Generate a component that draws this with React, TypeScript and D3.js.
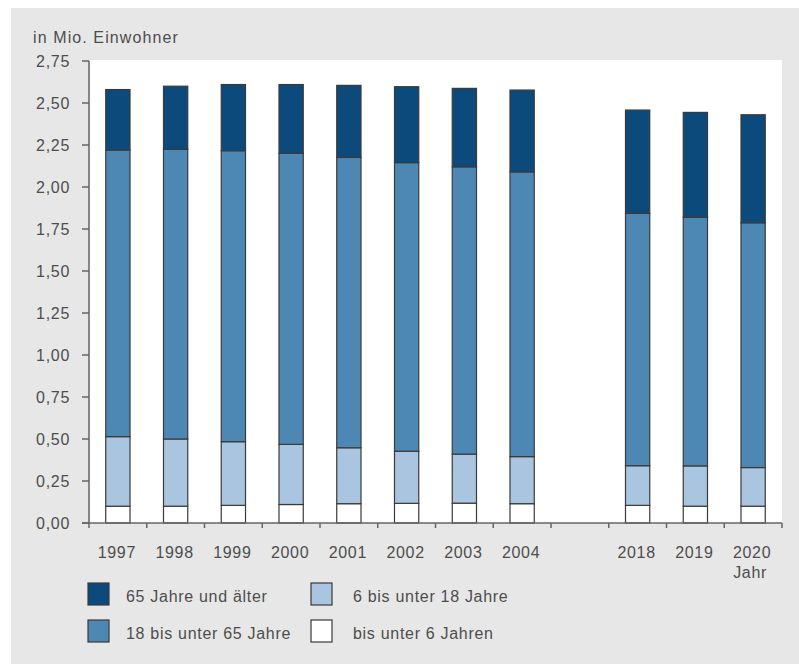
import React from "react";
import * as d3 from "d3";

const years = ["1997", "1998", "1999", "2000", "2001", "2002", "2003", "2004", "", "2018", "2019", "2020"];
const under6 = [0.1, 0.1, 0.105, 0.11, 0.115, 0.117, 0.118, 0.115, 0, 0.105, 0.1, 0.1];
const age6to18 = [0.414, 0.4, 0.379, 0.358, 0.333, 0.31, 0.292, 0.28, 0, 0.236, 0.24, 0.23];
const age18to65 = [1.706, 1.724, 1.732, 1.732, 1.728, 1.718, 1.71, 1.695, 0, 1.502, 1.48, 1.457];
const age65plus = [0.36, 0.376, 0.394, 0.41, 0.429, 0.452, 0.467, 0.487, 0, 0.615, 0.624, 0.643];
const yTicks = [0, 0.25, 0.5, 0.75, 1.0, 1.25, 1.5, 1.75, 2.0, 2.25, 2.5, 2.75];

const keys = ["u6", "a6", "a18", "a65"];
const colors: Record<string, string> = { u6: "#ffffff", a6: "#a9c5df", a18: "#4d87b4", a65: "#0b4a7a" };
const legendItems = [
  { key: "a65", label: "65 Jahre und älter", col: 0, row: 0 },
  { key: "a6", label: "6 bis unter 18 Jahre", col: 1, row: 0 },
  { key: "a18", label: "18 bis unter 65 Jahre", col: 0, row: 1 },
  { key: "u6", label: "bis unter 6 Jahren", col: 1, row: 1 },
];

export default function App() {
  const W = 799, H = 664;
  const left = 89, right = 782, top = 61, bottom = 523;
  const rows = years.map((y, i) => ({ year: y, u6: under6[i], a6: age6to18[i], a18: age18to65[i], a65: age65plus[i] }));
  const x = d3.scaleBand<string>().domain(years.map((y, i) => y || "gap" + i)).range([left, right]).paddingInner(0.58).paddingOuter(0.29);
  const y = d3.scaleLinear().domain([0, 2.75]).range([bottom, top]);
  const stack = d3.stack<any>().keys(keys)(rows);
  const fmt = (v: number) => v.toFixed(2).replace(".", ",");
  const textColor = "#4d4d4d";
  const font = "Liberation Sans, Arial, Helvetica, sans-serif";
  const fs = 16;
  const ls = 0.7;
  const step = x.step();
  const boundaries = d3.range(years.length + 1).map((i) => left + i * step);

  return (
    <div style={{ position: "absolute", left: 0, top: 0 }}>
      <svg width={W} height={H} style={{ display: "block" }} fontFamily={font}>
        <rect x={0} y={0} width={W} height={H} fill="#ffffff" />
        <rect x={11} y={8} width={W - 11} height={H - 8} fill="#e7e7e7" />
        <rect x={left + 1} y={60} width={right - left - 1} height={bottom - 60} fill="#ffffff" />
        <text x={33} y={43} fontSize={fs} fill={textColor} letterSpacing={1.1}>in Mio. Einwohner</text>
        {stack.map((layer) => (
          <g key={layer.key}>
            {layer.map((d, i) =>
              years[i] ? (
                <rect
                  key={i}
                  x={x(years[i])!}
                  y={y(d[1])}
                  width={x.bandwidth()}
                  height={y(d[0]) - y(d[1])}
                  fill={colors[layer.key]}
                  stroke="#3a3a3a"
                  strokeWidth={1.2}
                />
              ) : null
            )}
          </g>
        ))}
        <line x1={left} x2={left} y1={top} y2={bottom} stroke="#666" strokeWidth={1.5} />
        {yTicks.map((t) => (
          <g key={t}>
            <line x1={left - 7} x2={left} y1={y(t)} y2={y(t)} stroke="#666" strokeWidth={1.5} />
            <text x={70} y={y(t) + 5.5} textAnchor="end" fontSize={fs} fill={textColor} letterSpacing={ls}>{fmt(t)}</text>
          </g>
        ))}
        <line x1={left - 7} x2={right} y1={bottom} y2={bottom} stroke="#666" strokeWidth={1.5} />
        {boundaries.map((b, i) => (
          <line key={i} x1={b} x2={b} y1={bottom} y2={bottom + 5} stroke="#666" strokeWidth={1.5} />
        ))}
        {years.map((yr, i) =>
          yr ? (
            <text key={yr} x={x(yr)! + x.bandwidth() / 2 - 1} y={557.5} textAnchor="middle" fontSize={fs} fill={textColor} letterSpacing={ls}>{yr}</text>
          ) : null
        )}
        <text x={x("2020")! + x.bandwidth() / 2 - 3} y={577.5} textAnchor="middle" fontSize={fs} fill={textColor} letterSpacing={ls}>Jahr</text>
        {legendItems.map((it) => {
          const lx = it.col === 0 ? 88 : 311;
          const ly = it.row === 0 ? 583 : 620;
          return (
            <g key={it.key}>
              <rect x={lx} y={ly} width={21} height={22} fill={colors[it.key]} stroke="#3a3a3a" strokeWidth={1.2} />
              <text x={it.col === 0 ? 126 : 353} y={ly + 19} fontSize={fs} fill={textColor} letterSpacing={ls}>{it.label}</text>
            </g>
          );
        })}
      </svg>
    </div>
  );
}
